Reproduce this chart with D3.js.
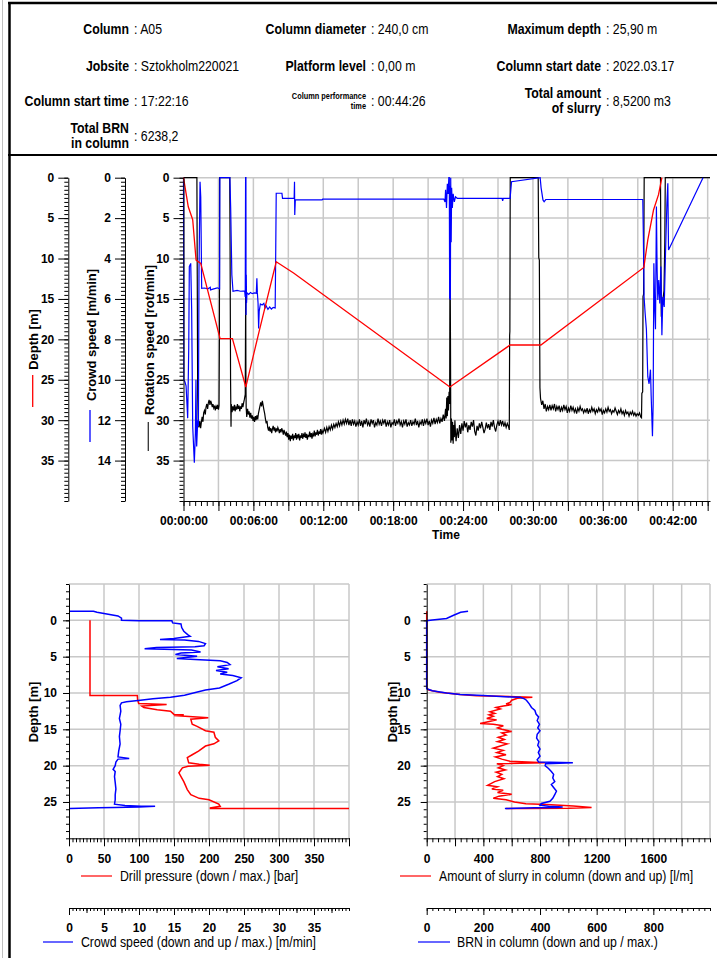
<!DOCTYPE html>
<html><head><meta charset="utf-8">
<script src="https://cdn.jsdelivr.net/npm/d3@7"></script>
<style>body{margin:0;background:#fff}svg{display:block}</style>
</head><body><svg id="chart" width="717" height="958"></svg>
<script>
// ---------------- DATA ----------------
const headerLabels = [
  ["Column", "Column diameter", "Maximum depth"],
  ["Jobsite", "Platform level", "Column start date"],
  ["Column start time", "Column performance|time", "Total amount|of slurry"],
  ["Total BRN|in column"]
];
const headerValues = [
  ["A05", "240,0 cm", "25,90 m"],
  ["Sztokholm220021", "0,00 m", "2022.03.17"],
  ["17:22:16", "00:44:26", "8,5200 m3"],
  ["6238,2"]
];

// top chart: time [min] vs depth [m]
const depthSeries = [[0,0],[0.41,3.6],[0.79,5.2],[1.08,10.2],[1.48,10.6],[3.14,19.9],[4.2,19.9],[5.35,25.9],[6.53,18.8],[7.96,10.4],[9.45,11.8],[22.87,25.9],[28.04,20.7],[30.68,20.7],[39.52,11.1],[39.86,7.7],[40.35,4.0],[40.78,2.1],[41.07,0]];

// top chart: time [min] vs crowd speed [m/min]
const crowdSeries = [[0,0],[0.03,10.0],[0.12,10.1],[0.22,10.3],[0.36,11.9],[0.45,8.4],[0.5,4.4],[0.62,4.24],[0.7,6.5],[0.79,12.3],[0.93,14.1],[1.02,12.65],[1.07,10.0],[1.13,13.3],[1.22,12.0],[1.28,12.3],[1.33,4.6],[1.42,0.2],[1.48,0.94],[1.53,3.6],[1.56,5.48],[1.8,5.46],[2.1,5.5],[2.3,5.42],[2.32,5.55],[2.6,5.5],[2.9,5.45],[3.1,5.5],[3.12,0],[3.98,0],[4.05,1.5],[4.15,4.8],[4.25,5.62],[4.6,5.58],[4.9,5.62],[5.25,5.6],[5.3,5.9],[5.33,0],[5.36,0],[5.37,6.8],[5.39,4.8],[5.41,6.2],[5.45,5.7],[5.6,5.78],[5.75,5.68],[5.9,5.74],[6.1,5.7],[6.25,5.72],[6.3,4.98],[6.34,5.7],[6.4,6.2],[6.45,7.46],[6.5,6.6],[6.6,6.25],[6.75,6.3],[6.9,6.22],[7.0,6.45],[7.1,6.35],[7.25,6.52],[7.4,6.4],[7.55,6.5],[7.7,6.42],[7.87,6.45],[7.92,3.5],[7.96,0.77],[8.45,0.77],[8.5,1.02],[9.5,1.02],[9.53,0.2],[9.55,1.85],[9.6,1.1],[11.9,1.1],[11.95,1.06],[22.35,1.06],[22.45,1.2],[22.5,0.6],[22.58,1.5],[22.65,0.3],[22.72,0.8],[22.78,0],[22.82,0],[22.85,6.0],[22.88,0.4],[22.91,6.05],[22.94,0],[22.98,3.2],[23.02,0.5],[23.08,1.5],[23.15,0.8],[23.25,1.2],[23.35,0.95],[23.5,1.02],[27.35,1.02],[27.4,1.15],[27.45,1.02],[28.04,1.02],[28.16,0.2],[30.62,0],[30.7,0.5],[30.86,1.1],[30.96,1.19],[31.1,1.08],[39.43,1.08],[39.48,2.92],[39.54,5.9],[39.63,6.7],[39.74,7.5],[39.86,9.85],[39.97,10.2],[40.09,9.5],[40.15,10.8],[40.26,12.8],[40.32,11.2],[40.38,4.24],[40.46,6.55],[40.52,7.5],[40.6,1.43],[40.66,4.57],[40.72,6.05],[40.8,5.06],[40.89,6.22],[40.98,4.4],[41.07,7.8],[41.15,5.9],[41.27,6.4],[41.38,3.75],[41.5,1.27],[41.58,0.28],[41.64,3.58],[44.6,0]];

// top chart: time [min] vs rotation speed [rot/min]
const rotationSeries = [[0,0],[1.15,0],[1.18,12],[1.22,27],[1.27,30.6],[1.33,30.9],[1.4,30.1],[1.47,31.0],[1.53,30.3],[1.6,29.6],[1.67,30.2],[1.73,29.1],[1.8,28.8],[1.87,29.3],[1.93,28.4],[2.0,28.0],[2.07,28.6],[2.13,27.9],[2.2,27.5],[2.27,28.1],[2.33,27.6],[2.4,27.9],[2.47,28.4],[2.53,28.0],[2.6,28.5],[2.67,28.2],[2.73,28.8],[2.8,28.3],[2.87,28.6],[2.93,28.1],[3.0,28.7],[3.05,28.2],[3.08,20],[3.1,0],[3.97,0],[4.0,9],[4.04,25],[4.08,30.8],[4.1,28.0],[4.17,29.0],[4.23,28.3],[4.3,28.8],[4.37,28.1],[4.43,28.9],[4.5,28.4],[4.57,28.7],[4.63,28.0],[4.7,28.6],[4.77,28.2],[4.83,28.9],[4.9,28.3],[4.97,28.6],[5.03,27.9],[5.1,28.4],[5.17,27.8],[5.23,27.4],[5.3,26.8],[5.34,14],[5.36,25],[5.38,28.5],[5.43,29.6],[5.5,28.6],[5.57,29.3],[5.63,28.9],[5.7,29.7],[5.77,29.1],[5.83,29.8],[5.9,29.4],[5.97,30.1],[6.03,29.6],[6.1,30.2],[6.17,29.5],[6.23,30.0],[6.3,29.4],[6.37,29.9],[6.43,29.2],[6.5,28.7],[6.57,28.2],[6.63,27.8],[6.7,28.3],[6.77,27.6],[6.83,28.1],[6.9,28.7],[6.97,29.2],[7.03,29.8],[7.1,30.4],[7.17,30.1],[7.23,30.9],[7.3,31.3],[7.37,30.8],[7.43,31.4],[7.5,31.0],[7.57,31.6],[7.63,31.1],[7.7,30.7],[7.77,31.3],[7.83,30.9],[7.9,31.5],[7.97,31.0],[8.03,31.4],[8.1,30.9],[8.17,31.2],[8.23,31.6],[8.3,31.1],[8.37,31.5],[8.43,31.0],[8.5,31.3],[8.57,31.8],[8.63,31.2],[8.7,31.6],[8.77,31.9],[8.83,31.4],[8.9,32.1],[8.97,31.6],[9.03,32.4],[9.1,31.8],[9.17,32.6],[9.23,31.9],[9.3,32.3],[9.37,31.7],[9.43,32.5],[9.5,31.9],[9.57,32.2],[9.63,31.6],[9.7,32.4],[9.77,31.8],[9.83,32.1],[9.9,31.7],[9.97,32.5],[10.03,31.9],[10.1,32.2],[10.17,31.6],[10.23,32.3],[10.3,31.8],[10.37,32.1],[10.43,31.5],[10.5,32.2],[10.57,31.7],[10.63,32.4],[10.7,31.9],[10.77,32.0],[10.83,31.4],[10.9,32.1],[10.97,31.6],[11.03,32.3],[11.1,31.7],[11.17,31.9],[11.23,31.3],[11.3,32.0],[11.37,31.5],[11.43,31.8],[11.5,31.2],[11.57,31.9],[11.63,31.4],[11.7,31.7],[11.77,31.1],[11.83,31.8],[11.9,31.3],[11.97,31.6],[12.1,31.0],[12.2,31.5],[12.3,30.9],[12.4,31.4],[12.5,30.8],[12.6,31.2],[12.7,30.6],[12.8,31.1],[12.9,30.5],[13.0,30.9],[13.1,30.4],[13.2,30.8],[13.3,30.2],[13.4,30.7],[13.5,30.1],[13.6,30.6],[13.7,30.0],[13.8,30.5],[13.9,29.9],[14.0,30.4],[14.1,29.8],[14.2,30.6],[14.3,30.0],[14.4,30.7],[14.5,29.9],[14.6,30.5],[14.7,30.1],[14.8,30.8],[14.9,30.2],[15.0,30.6],[15.1,29.9],[15.2,30.7],[15.3,30.1],[15.4,30.9],[15.5,30.0],[15.6,30.5],[15.7,29.8],[15.8,30.6],[15.9,30.2],[16.0,30.8],[16.1,29.9],[16.2,30.4],[16.3,30.0],[16.4,30.9],[16.5,30.3],[16.6,30.6],[16.7,29.8],[16.8,30.5],[16.9,30.1],[17.0,30.7],[17.1,30.0],[17.2,30.4],[17.3,29.9],[17.4,30.8],[17.5,30.2],[17.6,30.6],[17.7,30.0],[17.8,30.9],[17.9,30.3],[18.0,30.5],[18.1,29.9],[18.2,30.7],[18.3,30.1],[18.4,30.4],[18.5,29.8],[18.6,30.6],[18.7,30.2],[18.8,30.9],[18.9,30.1],[19.0,30.5],[19.1,29.9],[19.2,30.8],[19.3,30.3],[19.4,30.6],[19.5,30.0],[19.6,30.7],[19.7,30.2],[19.8,30.5],[19.9,29.8],[20.0,30.6],[20.1,30.1],[20.2,30.9],[20.3,30.2],[20.4,30.5],[20.5,29.9],[20.6,30.7],[20.7,30.0],[20.8,30.4],[20.9,29.8],[21.0,30.6],[21.1,30.1],[21.2,30.8],[21.3,30.0],[21.4,30.4],[21.5,29.7],[21.6,30.5],[21.7,29.9],[21.8,30.3],[21.9,29.6],[22.0,30.4],[22.1,29.8],[22.2,30.2],[22.3,29.3],[22.4,30.1],[22.5,28.6],[22.55,29.8],[22.6,27.2],[22.65,29.5],[22.7,27.0],[22.75,28.8],[22.8,26.5],[22.85,28.0],[22.88,7.3],[22.92,20],[22.95,32.8],[23.0,29.8],[23.05,32.5],[23.1,30.2],[23.15,32.9],[23.2,30.6],[23.25,32.1],[23.3,30.0],[23.35,31.6],[23.4,32.6],[23.5,31.0],[23.6,32.2],[23.7,30.6],[23.8,31.7],[23.9,30.4],[24.0,31.3],[24.1,30.1],[24.2,30.9],[24.3,30.3],[24.4,31.5],[24.5,30.6],[24.6,31.2],[24.7,30.2],[24.8,30.8],[24.9,30.0],[25.0,31.4],[25.1,31.9],[25.2,30.7],[25.3,31.3],[25.4,30.4],[25.5,31.0],[25.6,30.2],[25.7,30.9],[25.8,31.6],[25.9,31.1],[26.0,30.3],[26.1,31.0],[26.2,30.5],[26.3,31.2],[26.4,30.2],[26.5,30.8],[26.6,30.0],[26.7,30.9],[26.8,31.4],[26.9,30.6],[27.0,30.1],[27.1,30.7],[27.2,30.0],[27.3,30.6],[27.4,30.1],[27.5,30.8],[27.6,30.3],[27.7,30.9],[27.8,30.4],[27.9,30.8],[27.97,31.2],[28.0,19.5],[28.02,19.0],[28.05,0],[30.45,0],[30.5,9.9],[30.55,10.2],[30.6,26],[30.65,27.3],[30.75,28.1],[30.85,27.6],[30.95,28.6],[31.05,28.0],[31.15,28.9],[31.25,28.3],[31.35,28.7],[31.45,28.1],[31.55,28.8],[31.65,28.2],[31.75,28.6],[31.85,28.0],[31.95,28.9],[32.05,28.3],[32.15,28.7],[32.25,28.2],[32.35,29.0],[32.45,28.4],[32.55,28.8],[32.65,28.1],[32.75,28.7],[32.85,28.3],[32.95,29.1],[33.05,28.5],[33.15,28.9],[33.25,28.2],[33.35,28.8],[33.45,28.4],[33.55,29.0],[33.65,28.6],[33.75,29.2],[33.85,28.5],[33.95,28.9],[34.05,28.3],[34.15,28.8],[34.25,28.6],[34.35,29.1],[34.45,28.7],[34.55,29.0],[34.65,28.5],[34.75,29.2],[34.85,28.7],[34.95,29.0],[35.05,28.4],[35.15,28.9],[35.25,28.6],[35.35,29.2],[35.45,28.7],[35.55,29.0],[35.65,28.5],[35.75,28.9],[35.85,28.6],[35.95,29.3],[36.05,28.8],[36.15,29.1],[36.25,28.6],[36.35,29.0],[36.45,28.4],[36.55,28.9],[36.65,28.7],[36.75,29.2],[36.85,28.8],[36.95,29.0],[37.05,28.5],[37.15,28.9],[37.25,29.3],[37.35,28.8],[37.45,29.1],[37.55,28.6],[37.65,29.2],[37.75,28.9],[37.85,29.4],[37.95,28.8],[38.05,29.2],[38.15,29.0],[38.25,29.5],[38.35,29.0],[38.45,29.3],[38.55,28.9],[38.65,29.4],[38.75,29.1],[38.85,29.5],[38.95,29.2],[39.05,29.4],[39.15,29.1],[39.25,29.6],[39.32,29.7],[39.35,26.7],[39.42,26.5],[39.45,14.7],[39.5,14.4],[39.55,0],[40.95,0],[40.98,10],[41.02,17.2],[41.12,15.5],[41.25,14.0],[41.32,8],[41.36,0],[45.2,0]];

// bottom-left: drill pressure [bar] vs depth [m]
const pressureProfile = [[30,0],[30,10.36],[97.6,10.36],[98,10.9],[99.5,11.46],[139.5,11.6],[104,11.8],[107,12.0],[126,12.3],[145,12.5],[150,12.95],[164,13.0],[150,13.1],[166,13.2],[199,13.4],[174,13.6],[176,14.3],[183,14.6],[195,15.2],[207,15.4],[209,16.1],[214,16.6],[207,17.0],[195,17.3],[185,18.0],[176,18.5],[169,18.9],[171,19.6],[186,19.8],[201,19.95],[170,20.1],[162,20.3],[157,21.0],[160,21.5],[164,22.2],[169,23.3],[174,24.0],[186,24.5],[200,24.7],[214,25.3],[216,25.6],[202,25.8],[202,25.9],[400,25.9]];
// bottom-left: crowd speed [m/min] vs depth [m]
const crowdProfile = [[0.14,-1.24],[3.5,-1.24],[4.0,-1.1],[7.0,-0.6],[7.5,-0.3],[7.5,0],[10,0.05],[14.7,0.05],[14.8,0.35],[16.0,0.5],[16.1,1.0],[16.4,1.5],[17.0,2.0],[17.3,2.2],[15.0,2.5],[13.0,2.65],[16.5,2.7],[18.5,2.9],[19.5,3.2],[19.3,3.5],[18.0,3.65],[12.5,3.75],[10.8,3.9],[15,4.0],[17.5,4.1],[18.8,4.35],[16,4.5],[15.2,4.7],[17,4.85],[18.3,4.95],[15.4,5.25],[18,5.4],[21.6,5.55],[22.6,5.8],[23.0,6.1],[21.2,6.4],[22.8,6.65],[21.0,6.9],[22.6,7.15],[21.6,7.4],[23.4,7.6],[24.6,7.9],[24.0,8.3],[22.8,8.8],[21.5,9.3],[19.5,9.6],[18.2,9.9],[16.5,10.3],[14.5,10.6],[12.0,10.8],[10.2,11.0],[8.2,11.2],[7.5,11.35],[7.3,11.7],[7.4,12.5],[7.2,13.5],[7.4,14.3],[7.3,15.2],[7.2,16.0],[7.3,17.0],[7.1,18.0],[7.0,18.8],[8.6,19.0],[7.0,19.1],[6.7,19.5],[6.6,20.0],[6.3,20.5],[6.6,20.8],[6.5,21.5],[6.6,22.3],[6.7,23.2],[6.6,24.0],[6.6,24.7],[6.5,25.3],[8.0,25.5],[10.3,25.6],[12.3,25.6],[10.0,25.7],[6.5,25.75],[4.2,25.8],[0.14,25.9]];

// bottom-right: slurry [l/m] vs depth [m]
const slurryProfile = [[0,-1.24],[0,9.3],[15,9.6],[90,9.9],[235,10.2],[352,10.38],[518,10.45],[746,10.6],[640,10.72],[600,11.0],[588,11.3],[560,11.5],[600,11.6],[541,11.8],[490,12.0],[520,12.2],[447,12.6],[480,12.8],[440,13.0],[470,13.2],[424,13.5],[494,13.7],[450,13.9],[377,14.2],[470,14.3],[541,14.5],[500,14.8],[530,15.0],[600,15.3],[530,15.5],[560,15.8],[505,16.1],[548,16.4],[500,16.7],[570,17.0],[520,17.3],[470,17.6],[540,17.9],[495,18.2],[560,18.5],[485,18.8],[530,19.1],[588,19.4],[835,19.6],[495,19.75],[540,20.0],[505,20.3],[555,20.6],[490,20.9],[530,21.2],[500,21.5],[545,21.8],[480,22.2],[430,22.7],[500,22.9],[460,23.2],[540,23.4],[500,23.7],[600,23.95],[510,24.2],[470,24.5],[560,24.7],[620,25.0],[700,25.25],[847,25.35],[1035,25.55],[1164,25.75],[1000,25.85],[694,25.9],[560,25.9]];
// bottom-right: BRN vs depth [m]
const brnProfile = [[146,-1.24],[120,-1.1],[95,-0.7],[70,-0.25],[20,-0.05],[0,0.05],[0,9.4],[20,9.7],[70,10.0],[118,10.2],[200,10.35],[245,10.45],[300,10.55],[330,10.6],[345,10.8],[352,11.0],[362,11.5],[370,12.0],[382,12.4],[386,12.9],[395,13.3],[390,13.8],[398,14.3],[392,14.8],[400,15.2],[390,15.7],[388,16.2],[396,16.7],[392,17.2],[400,17.7],[394,18.2],[400,18.7],[390,19.2],[395,19.5],[516,19.6],[420,19.75],[418,20.0],[430,20.4],[440,20.8],[448,21.2],[445,21.7],[452,22.2],[440,22.6],[448,23.0],[458,23.5],[452,24.0],[445,24.5],[435,24.9],[405,25.2],[400,25.45],[430,25.6],[480,25.7],[460,25.75],[380,25.8],[276,25.9]];

// tick label lists
const topDepthTicks = [0,5,10,15,20,25,30,35];
const topCrowdTicks = [0,2,4,6,8,10,12,14];
const topRotTicks = [0,5,10,15,20,25,30,35];
const timeLabelTicks = [0,6,12,18,24,30,36,42];
const profileDepthTicks = [0,5,10,15,20,25];
const pressureTicks = [0,50,100,150,200,250,300,350];
const crowdSpeedTicks = [0,5,10,15,20,25,30,35];
const slurryTicks = [0,400,800,1200,1600];
const brnTicks = [0,200,400,600,800];

// ---------------- DRAWING ----------------
const W = 717, H = 958;
const svg = d3.select("#chart");
const FB = "'Liberation Sans', Arial, Helvetica, sans-serif";
const GRID = "#c8c8c8";
const NARROW = 0.82;

// narrow text emulated with a horizontal scale of Liberation Sans
function ntext(x, y, txt, size, bold, anchor) {
  return svg.append("text").attr("transform", `translate(${x},${y}) scale(${NARROW},1)`)
    .attr("text-anchor", anchor || "start").attr("font-family", FB)
    .attr("font-weight", bold ? "bold" : "normal").attr("font-size", size).text(txt);
}
function styleAxis(g, size) {
  g.selectAll("text").attr("font-family", FB).attr("font-size", size || 12).attr("font-weight", "bold").attr("fill", "#000");
  g.selectAll("line").attr("stroke", "#000");
  g.selectAll("path").attr("stroke", "#000");
}
function minorAxis(g, axis, values, size) {
  const m = g.append("g").call(axis.tickValues(values).tickSize(size).tickSizeOuter(0).tickFormat(""));
  m.select(".domain").remove();
  m.selectAll("line").attr("stroke", "#000");
  return m;
}

// frame
svg.append("line").attr("x1", 2.5).attr("x2", 2.5).attr("y1", 0).attr("y2", H).attr("stroke", "#c0c0c0");
svg.append("line").attr("x1", 9.5).attr("x2", 9.5).attr("y1", 2).attr("y2", H).attr("stroke", "#000").attr("stroke-width", 2.5);
svg.append("line").attr("x1", 8).attr("x2", W).attr("y1", 3).attr("y2", 3).attr("stroke", "#000").attr("stroke-width", 2.5);
svg.append("line").attr("x1", 8).attr("x2", W).attr("y1", 155).attr("y2", 155).attr("stroke", "#000").attr("stroke-width", 2);

// header
const colX = [129, 366, 601];
const rowY = [34, 71, 106, 141];
headerLabels.forEach((row, r) => row.forEach((lab, c) => {
  const x = colX[c], y = rowY[r];
  const parts = lab.split("|");
  if (parts.length === 1) {
    ntext(x, y, parts[0], 15, true, "end");
  } else if (lab.startsWith("Column performance")) {
    ntext(x, y - 7.5, parts[0], 9, true, "end");
    ntext(x, y + 2.5, parts[1], 9, true, "end");
  } else {
    ntext(x, y - 8, parts[0], 15, true, "end");
    ntext(x, y + 7, parts[1], 15, true, "end");
  }
  ntext(x + 5, y, ": " + headerValues[r][c], 15, false, "start");
}));

// ---------- TOP CHART ----------
const tx = d3.scaleLinear().domain([0, 45.2]).range([183.5, 710]);
const yDepth = d3.scaleLinear().domain([0, 40]).range([177.7, 501]);
const yCrowd = d3.scaleLinear().domain([0, 16]).range([177.7, 501]);
const yRot = d3.scaleLinear().domain([0, 40]).range([177.7, 501]);

const topG = svg.append("g");
topG.selectAll(".hg").data(d3.range(0, 40, 5)).enter().append("line")
  .attr("x1", tx(0)).attr("x2", tx(45.2)).attr("y1", d => yDepth(d)).attr("y2", d => yDepth(d))
  .attr("stroke", GRID).attr("stroke-width", 1.5);
topG.selectAll(".vg").data(d3.range(3, 46, 3)).enter().append("line")
  .attr("x1", d => tx(d)).attr("x2", d => tx(d)).attr("y1", yDepth(0)).attr("y2", yDepth(40))
  .attr("stroke", GRID).attr("stroke-width", 1.5);

const lineRot = d3.line().x(d => tx(d[0])).y(d => yRot(d[1]));
const lineCrowd = d3.line().x(d => tx(d[0])).y(d => yCrowd(d[1]));
const lineDepth = d3.line().x(d => tx(d[0])).y(d => yDepth(d[1]));
topG.append("path").attr("d", lineRot(rotationSeries)).attr("fill", "none").attr("stroke", "#000").attr("stroke-width", 1.2);
topG.append("path").attr("d", lineCrowd(crowdSeries)).attr("fill", "none").attr("stroke", "#0000ff").attr("stroke-width", 1.2);
topG.append("path").attr("d", lineDepth(depthSeries)).attr("fill", "none").attr("stroke", "#ff0000").attr("stroke-width", 1.3);

function leftAxis(x, scale, majors, minors) {
  const g = svg.append("g").attr("transform", `translate(${x},0)`);
  g.call(d3.axisLeft(scale).tickValues(majors).tickSize(10).tickPadding(4).tickSizeOuter(0));
  styleAxis(g, 12);
  minorAxis(g, d3.axisLeft(scale), minors, 4);
  return g;
}
leftAxis(68.3, yDepth, topDepthTicks, d3.range(0, 40.01, 0.5));
leftAxis(125, yCrowd, topCrowdTicks, d3.range(0, 16.01, 0.2));
leftAxis(183.5, yRot, topRotTicks, d3.range(0, 40.01, 0.5));

const fmtT = m => { const h = Math.floor(m / 60), mm = m % 60; return String(h).padStart(2, "0") + ":" + String(mm).padStart(2, "0") + ":00"; };
const xg = svg.append("g").attr("transform", `translate(0,${yDepth(40)})`);
xg.call(d3.axisBottom(tx).tickValues(timeLabelTicks).tickFormat(fmtT).tickSize(10).tickPadding(5).tickSizeOuter(0));
styleAxis(xg, 12);
minorAxis(xg, d3.axisBottom(tx), d3.range(3, 46, 6), 10);
minorAxis(xg, d3.axisBottom(tx), d3.range(0, 45.01, 0.5), 5);
svg.append("text").attr("x", 446).attr("y", 539).attr("text-anchor", "middle")
  .attr("font-family", FB).attr("font-weight", "bold").attr("font-size", 12).text("Time");

function vTitle(x, y, txt, color, y1, y2, lx) {
  svg.append("text").attr("transform", `translate(${x},${y}) rotate(-90)`).attr("text-anchor", "middle")
    .attr("dominant-baseline", "central").attr("font-family", FB).attr("font-weight", "bold").attr("font-size", 13).text(txt);
  if (color) svg.append("line").attr("x1", lx).attr("x2", lx).attr("y1", y1).attr("y2", y2).attr("stroke", color).attr("stroke-width", 1.3);
}
vTitle(33.5, 339.5, "Depth [m]", "#ff0000", 375, 407, 32.7);
vTitle(91.7, 335, "Crowd speed [m/min]", "#0000ff", 410, 442, 90);
vTitle(149.2, 340, "Rotation speed  [rot/min]", "#333", 422, 451, 148.3);

// ---------- BOTTOM CHARTS ----------
const yProf = d3.scaleLinear().domain([-5, 30]).range([584, 838.3]);

function profileChart(o) {
  const g = svg.append("g");
  const x0 = o.x1.range()[0], xEnd = o.x1.range()[1];
  g.selectAll(".h").data([-5, 0, 5, 10, 15, 20, 25]).enter().append("line")
    .attr("x1", x0).attr("x2", xEnd).attr("y1", d => yProf(d)).attr("y2", d => yProf(d))
    .attr("stroke", GRID).attr("stroke-width", 1.5);
  g.selectAll(".v").data(o.grid).enter().append("line")
    .attr("x1", d => o.x1(d)).attr("x2", d => o.x1(d)).attr("y1", yProf(-5)).attr("y2", yProf(30))
    .attr("stroke", GRID).attr("stroke-width", 1.5);
  const l1 = d3.line().x(d => o.x1(d[0])).y(d => yProf(d[1]));
  const l2 = d3.line().x(d => o.x2(d[0])).y(d => yProf(d[1]));
  g.append("path").attr("d", l1(o.red)).attr("fill", "none").attr("stroke", "#ff0000").attr("stroke-width", 1.5);
  g.append("path").attr("d", l2(o.blue)).attr("fill", "none").attr("stroke", "#0000ff").attr("stroke-width", 1.5);
  const ga = svg.append("g").attr("transform", `translate(${x0},0)`);
  ga.call(d3.axisLeft(yProf).tickValues(profileDepthTicks).tickSize(6).tickPadding(o.lpad).tickSizeOuter(0));
  styleAxis(ga, 12);
  minorAxis(ga, d3.axisLeft(yProf), d3.range(-5, 30.01, 1), 3);
  const gb = svg.append("g").attr("transform", `translate(0,${yProf(30)})`);
  gb.call(d3.axisBottom(o.x1).tickValues(o.ticks1).tickFormat(d => String(d)).tickSize(8).tickPadding(8).tickSizeOuter(0));
  styleAxis(gb, 12);
  minorAxis(gb, d3.axisBottom(o.x1), o.minor1, 4);
  minorAxis(gb, d3.axisBottom(o.x1), o.major1, 8);
  const gc = svg.append("g").attr("transform", "translate(0,908)");
  gc.call(d3.axisBottom(o.x2).tickValues(o.ticks2).tickFormat(d => String(d)).tickSize(7).tickPadding(8).tickSizeOuter(0));
  styleAxis(gc, 12);
  minorAxis(gc, d3.axisBottom(o.x2), o.minor2, 3);
  minorAxis(gc, d3.axisBottom(o.x2), o.mid2, 5);
  svg.append("text").attr("transform", `translate(${o.titleX},712) rotate(-90)`).attr("text-anchor", "middle")
    .attr("dominant-baseline", "central").attr("font-family", FB).attr("font-weight", "bold").attr("font-size", 13).text("Depth [m]");
  svg.append("line").attr("x1", o.leg1[0]).attr("x2", o.leg1[1]).attr("y1", 876).attr("y2", 876).attr("stroke", "#ff0000").attr("stroke-width", 1.2);
  ntext(o.leg1[2], 881, o.text1, 15, false, "start");
  svg.append("line").attr("x1", o.leg2[0]).attr("x2", o.leg2[1]).attr("y1", 942).attr("y2", 942).attr("stroke", "#0000ff").attr("stroke-width", 1.2);
  ntext(o.leg2[2], 947, o.text2, 15, false, "start");
}

profileChart({
  x1: d3.scaleLinear().domain([0, 400]).range([69, 349]),
  x2: d3.scaleLinear().domain([0, 40]).range([69, 349]),
  grid: d3.range(50, 401, 50),
  red: pressureProfile, blue: crowdProfile,
  ticks1: pressureTicks, major1: [400], minor1: d3.range(0, 400.1, 5),
  ticks2: crowdSpeedTicks, minor2: d3.range(0, 40.01, 0.5), mid2: d3.range(2.5, 40, 5),
  lpad: 6, titleX: 33.3,
  leg1: [81, 112, 120], text1: "Drill pressure  (down / max.) [bar]",
  leg2: [43, 73, 81], text2: "Crowd speed (down and up / max.) [m/min]"
});
profileChart({
  x1: d3.scaleLinear().domain([0, 2000]).range([426.7, 710]),
  x2: d3.scaleLinear().domain([0, 1000]).range([426.7, 710]),
  grid: d3.range(200, 2001, 200),
  red: slurryProfile, blue: brnProfile,
  ticks1: slurryTicks, major1: d3.range(200, 2001, 400), minor1: d3.range(0, 2000.1, 40),
  ticks2: brnTicks, minor2: d3.range(0, 1000.1, 20), mid2: d3.range(100, 1000, 200),
  lpad: 10, titleX: 392.5,
  leg1: [400, 431, 439], text1: "Amount of slurry in column  (down and up) [l/m]",
  leg2: [418, 450, 457], text2: "BRN in column  (down and up / max.)"
});
</script></body></html>
